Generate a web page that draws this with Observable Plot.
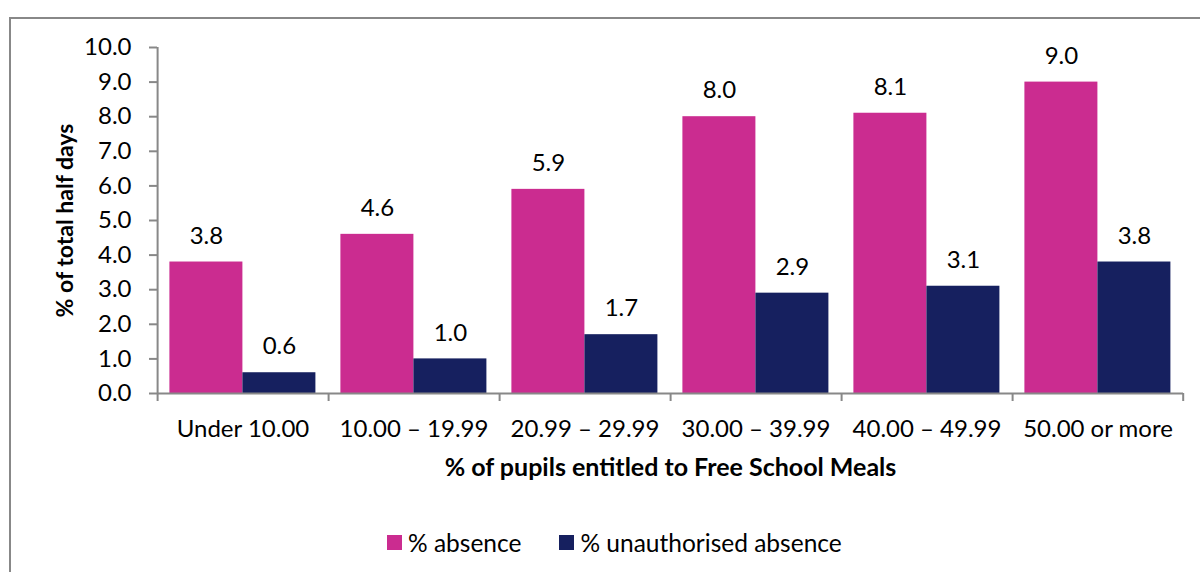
<!DOCTYPE html>
<html><head><meta charset="utf-8">
<script src="https://cdn.jsdelivr.net/npm/d3@7"></script>
<script src="https://cdn.jsdelivr.net/npm/@observablehq/plot@0.6"></script>
<style>
body{margin:0;width:1200px;height:572px;overflow:hidden;background:#fff;font-family:Lato,sans-serif;position:relative}
#frame{position:absolute;left:9px;top:17px;width:1300px;height:700px;border:2px solid #888;box-sizing:border-box}
#chart{position:absolute;left:0;top:0}
#chart [aria-label="fx-axis label"] text{font-weight:bold;font-size:25px}
#chart [aria-label="y-axis label"] text{font-weight:bold;font-size:23px}
#legend{position:absolute;left:387px;top:527px;height:30px;display:flex;align-items:center;font-size:24.5px;color:#000;white-space:nowrap}
#legend .sw{width:15px;height:15px;display:inline-block;margin-right:6px}
#legend .item{display:flex;align-items:center;margin-right:38px}
</style></head>
<body>
<div id="frame"></div>
<div id="chart"></div>
<div id="legend"></div>
<script>
const categories = ["Under 10.00","10.00 – 19.99","20.99 – 29.99","30.00 – 39.99","40.00 – 49.99","50.00 or more"];
const series = ["% absence","% unauthorised absence"];
const absence = [3.8,4.6,5.9,8.0,8.1,9.0];
const unauthorised = [0.6,1.0,1.7,2.9,3.1,3.8];
const yTicks = [0,1,2,3,4,5,6,7,8,9,10];
const colors = ["#CB2C90","#16205F"];
const xTitle = "% of pupils entitled to Free School Meals";
const yTitle = "% of total half days";

const data = [];
categories.forEach((c,i)=>{
  data.push({cat:c, series:series[0], value:absence[i]});
  data.push({cat:c, series:series[1], value:unauthorised[i]});
});

const W=1200, H=500, ML=155.6, MR=16.6, MT=47, MB=107, PO=0.162;
const fw=(W-ML-MR)/categories.length;
const step=fw/(series.length+2*PO);
const off=step*(PO+0.5);
const pxPerUnit=(H-MT-MB)/10;
const tickLen=8/pxPerUnit;
const gray="#888";

const plot = Plot.plot({
  width:W, height:H, marginLeft:ML, marginRight:MR, marginTop:MT, marginBottom:MB,
  style:{fontFamily:"Lato, sans-serif", fontSize:"24px", color:"#000", background:"transparent"},
  fx:{domain:categories, padding:0, label:null},
  x:{domain:series, paddingInner:0, paddingOuter:PO, axis:null},
  y:{domain:[0,10], axis:null},
  color:{domain:series, range:colors},
  marks:[
    Plot.barY(data,{fx:"cat", x:"series", y:"value", fill:"series"}),
    Plot.text(data,{fx:"cat", x:"series", y:"value", text:d=>d.value.toFixed(1), dy:-26, fontSize:24, fill:"#000"}),
    Plot.ruleY([0],{stroke:gray, strokeWidth:2}),
    Plot.ruleX(categories,{fx:d=>d, x:()=>series[0], y1:0, y2:-tickLen, dx:-off, stroke:gray, strokeWidth:2}),
    Plot.ruleX([categories[categories.length-1]],{fx:d=>d, x:()=>series[series.length-1], y1:0, y2:-tickLen, dx:off, stroke:gray, strokeWidth:2}),
    Plot.ruleX([categories[0]],{fx:d=>d, x:()=>series[0], y1:0, y2:10, dx:-off, stroke:gray, strokeWidth:2}),
    Plot.axisY({ticks:yTicks, tickFormat:d=>d.toFixed(1), tickSize:8, tickPadding:18, stroke:gray, strokeWidth:2, fill:"#000", fontSize:24,
      label:yTitle, labelArrow:false, labelAnchor:"center", labelOffset:101}),
    Plot.axisFx({anchor:"bottom", tickSize:0, tickPadding:26, fill:"#000", fontSize:24, label:xTitle, labelArrow:false, labelAnchor:"center", labelOffset:82})
  ]
});
document.getElementById("chart").appendChild(plot);

const lg=document.getElementById("legend");
series.forEach((s,i)=>{
  const it=document.createElement("div"); it.className="item";
  const sw=document.createElement("span"); sw.className="sw"; sw.style.background=colors[i];
  const t=document.createElement("span"); t.textContent=s;
  it.appendChild(sw); it.appendChild(t); lg.appendChild(it);
});
</script>
</body></html>
